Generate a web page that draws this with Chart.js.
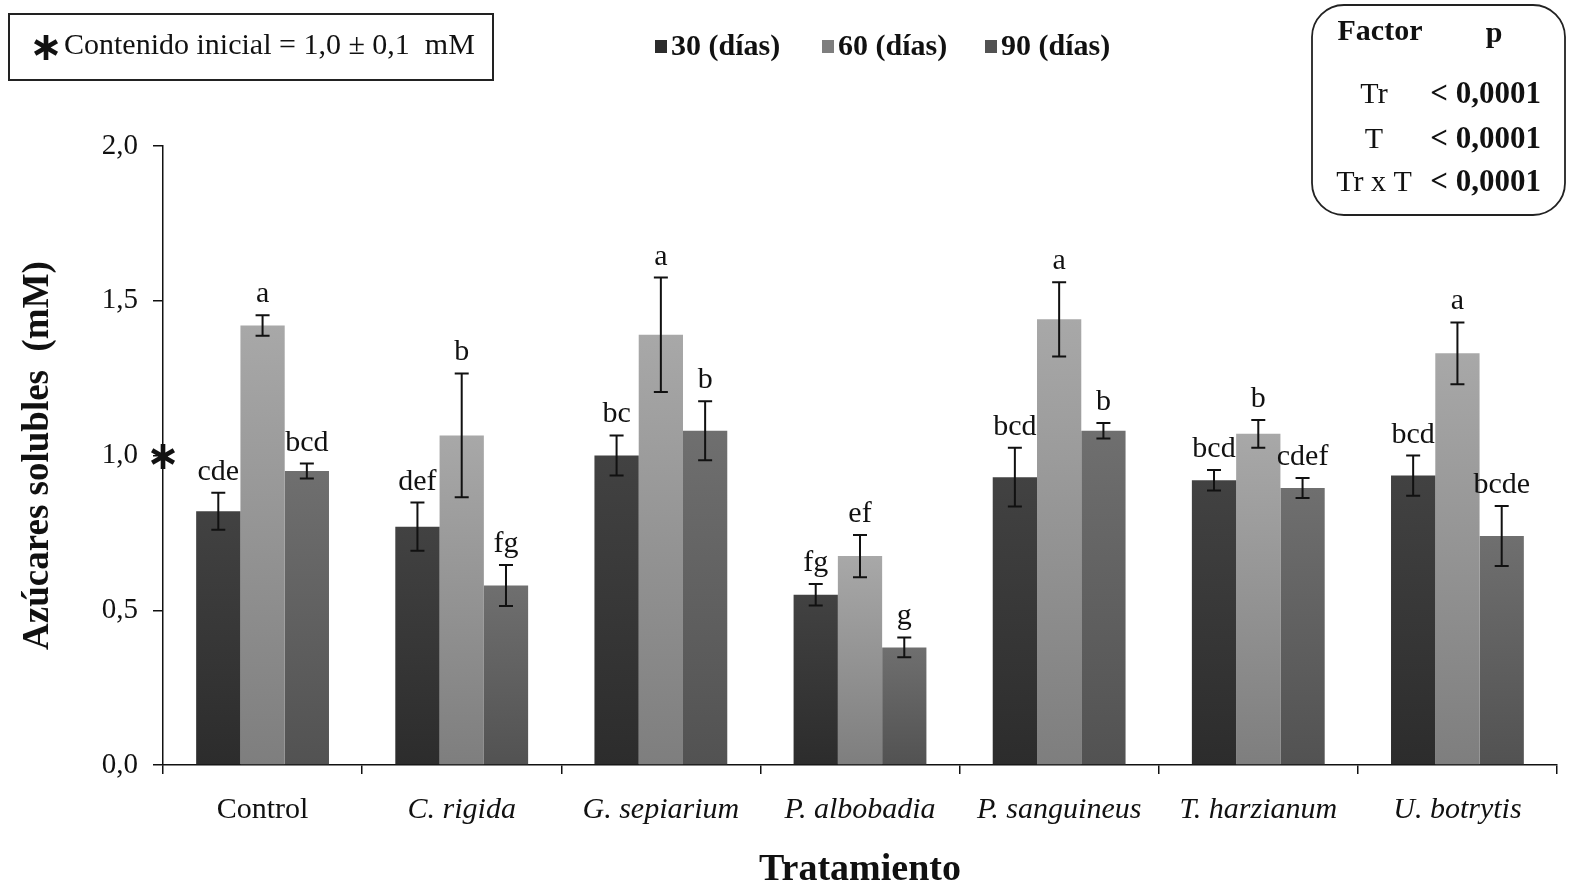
<!DOCTYPE html>
<html>
<head>
<meta charset="utf-8">
<script src="https://cdn.jsdelivr.net/npm/chart.js@4.4.1/dist/chart.umd.min.js"></script>
<style>
  html, body { margin:0; padding:0; background:#fff; }
  #wrap { width:1572px; height:886px; position:relative; }
</style>
</head>
<body>
<div id="wrap"><canvas id="c" width="1572" height="886"></canvas></div>
<script>
// data
const categories = ['Control', 'C. rigida', 'G. sepiarium', 'P. albobadia', 'P. sanguineus', 'T. harzianum', 'U. botrytis'];
const seriesNames = ['30 (días)', '60 (días)', '90 (días)'];
const sugar30 = [0.82, 0.77, 1.00, 0.55, 0.93, 0.92, 0.935];
const sugar60 = [1.42, 1.065, 1.39, 0.675, 1.44, 1.07, 1.33];
const sugar90 = [0.95, 0.58, 1.08, 0.38, 1.08, 0.895, 0.74];
const err30 = [0.06, 0.078, 0.065, 0.035, 0.095, 0.033, 0.065];
const err60 = [0.033, 0.2, 0.185, 0.068, 0.12, 0.045, 0.1];
const err90 = [0.024, 0.066, 0.095, 0.032, 0.025, 0.032, 0.097];
const letters30 = ['cde', 'def', 'bc', 'fg', 'bcd', 'bcd', 'bcd'];
const letters60 = ['a', 'b', 'a', 'ef', 'a', 'b', 'a'];
const letters90 = ['bcd', 'fg', 'b', 'g', 'b', 'cdef', 'bcde'];
const yTicks = [0, 0.5, 1.0, 1.5, 2.0];
const initialContent = 1.0;
const initialText = 'Contenido inicial = 1,0 ± 0,1  mM';
const factorNames = ['Tr', 'T', 'Tr x T'];
const factorP = ['< 0,0001', '< 0,0001', '< 0,0001'];

const SERIF = '"Liberation Serif", "Times New Roman", serif';
const fmt = v => v.toFixed(1).replace('.', ',');

// top/bottom shades per series (bars fade slightly darker downward)
const shades = [['#424242', '#2c2c2c'], ['#a8a8a8', '#7e7e7e'], ['#6f6f6f', '#525252']];

function barFill(i) {
  return function(ctx) {
    const chart = ctx.chart;
    const y = chart.scales.y;
    if (!chart.chartArea || !y || ctx.raw == null) return shades[i][0];
    const top = y.getPixelForValue(ctx.raw);
    const bottom = y.getPixelForValue(0);
    if (!isFinite(top) || bottom - top < 1) return shades[i][0];
    const g = chart.ctx.createLinearGradient(0, top, 0, bottom);
    g.addColorStop(0, shades[i][0]);
    g.addColorStop(1, shades[i][1]);
    return g;
  };
}

const errs = [err30, err60, err90];
const letters = [letters30, letters60, letters90];

// error bars + significance letters
const errorBars = {
  id: 'errorBars',
  afterDatasetsDraw(chart) {
    const ctx = chart.ctx, y = chart.scales.y;
    ctx.save();
    chart.data.datasets.forEach((ds, di) => {
      const meta = chart.getDatasetMeta(di);
      meta.data.forEach((bar, i) => {
        const v = ds.data[i], e = errs[di][i];
        const yt = y.getPixelForValue(v + e), yb = y.getPixelForValue(v - e);
        ctx.strokeStyle = '#111';
        ctx.lineWidth = 2;
        ctx.beginPath();
        ctx.moveTo(bar.x, yt); ctx.lineTo(bar.x, yb);
        ctx.moveTo(bar.x - 7, yt); ctx.lineTo(bar.x + 7, yt);
        ctx.moveTo(bar.x - 7, yb); ctx.lineTo(bar.x + 7, yb);
        ctx.stroke();
        ctx.fillStyle = '#111';
        ctx.font = '30px ' + SERIF;
        ctx.textAlign = 'center';
        ctx.textBaseline = 'alphabetic';
        ctx.fillText(letters[di][i], bar.x, yt - 13);
      });
    });
    ctx.restore();
  }
};

// legend, boxes and axis asterisk
const annotations = {
  id: 'annotations',
  afterDraw(chart) {
    const ctx = chart.ctx, y = chart.scales.y;
    ctx.save();
    ctx.fillStyle = '#111';
    ctx.strokeStyle = '#222';

    // asterisk marking initial content on the y axis
    ctx.font = 'bold 40px "DejaVu Sans"';
    ctx.textAlign = 'center';
    ctx.textBaseline = 'middle';
    ctx.fillText('∗', chart.chartArea.left, y.getPixelForValue(initialContent) + 3);

    // initial content box
    ctx.lineWidth = 2;
    ctx.strokeRect(9, 14, 484, 66);
    ctx.fillText('∗', 46, 50);
    ctx.font = '30px ' + SERIF;
    ctx.textAlign = 'left';
    ctx.fillText(initialText, 64, 46);

    // legend
    const legendX = [655, 822, 985];
    ctx.font = 'bold 30px ' + SERIF;
    chart.data.datasets.forEach((ds, i) => {
      ctx.fillStyle = shades[i][1];
      ctx.fillRect(legendX[i], 40, 12, 13);
      ctx.fillStyle = '#111';
      ctx.fillText(seriesNames[i], legendX[i] + 16, 47);
    });

    // factor table (rounded box)
    const bx = 1312, by = 5, bw = 253, bh = 210, r = 32;
    ctx.lineWidth = 1.8;
    ctx.beginPath();
    ctx.moveTo(bx + r, by);
    ctx.arcTo(bx + bw, by, bx + bw, by + bh, r);
    ctx.arcTo(bx + bw, by + bh, bx, by + bh, r);
    ctx.arcTo(bx, by + bh, bx, by, r);
    ctx.arcTo(bx, by, bx + bw, by, r);
    ctx.closePath();
    ctx.stroke();
    ctx.font = 'bold 30px ' + SERIF;
    ctx.textAlign = 'center';
    ctx.fillText('Factor', 1380, 32);
    ctx.fillText('p', 1494, 34);
    const rowY = [95, 140, 183];
    factorNames.forEach((f, i) => {
      ctx.font = '30px ' + SERIF;
      ctx.textAlign = 'center';
      ctx.fillText(f, 1374, rowY[i]);
      ctx.font = 'bold 31px ' + SERIF;
      ctx.textAlign = 'right';
      ctx.fillText(factorP[i], 1541, rowY[i]);
    });
    ctx.restore();
  }
};

new Chart(document.getElementById('c'), {
  type: 'bar',
  data: {
    labels: categories,
    datasets: [
      { label: seriesNames[0], data: sugar30, backgroundColor: barFill(0) },
      { label: seriesNames[1], data: sugar60, backgroundColor: barFill(1) },
      { label: seriesNames[2], data: sugar90, backgroundColor: barFill(2) }
    ]
  },
  options: {
    responsive: false,
    animation: false,
    events: [],
    categoryPercentage: 0.667,
    barPercentage: 1.0,
    layout: { padding: { top: 146, right: 15, left: 0, bottom: 0 } },
    plugins: { legend: { display: false }, tooltip: { enabled: false } },
    scales: {
      x: {
        afterFit(s) { s.height = 121; },
        grid: { offset: true, drawOnChartArea: false, drawTicks: true, tickLength: 9, color: '#111', lineWidth: 1.5 },
        border: { color: '#111', width: 1.5 },
        ticks: {
          color: '#111',
          padding: 18,
          font: c => ({ family: SERIF, size: 30, style: c.index === 0 ? 'normal' : 'italic' })
        },
        title: { display: true, text: 'Tratamiento', color: '#111', font: { family: SERIF, size: 38, weight: 'bold' }, padding: { top: 0, bottom: -7 } }
      },
      y: {
        min: 0, max: 2,
        afterFit(s) { s.width = 163; },
        afterBuildTicks(s) { s.ticks = yTicks.map(v => ({ value: v })); },
        grid: { drawOnChartArea: false, drawTicks: true, tickLength: 10, color: '#111', lineWidth: 1.5 },
        border: { color: '#111', width: 1.5 },
        ticks: { color: '#111', padding: 15, font: { family: SERIF, size: 29 }, callback: v => fmt(v) },
        title: { display: true, text: 'Azúcares solubles  (mM)', color: '#111', font: { family: SERIF, size: 37, weight: 'bold' }, padding: { top: 16, bottom: 0 } }
      }
    }
  },
  plugins: [errorBars, annotations]
});
</script>
</body>
</html>
